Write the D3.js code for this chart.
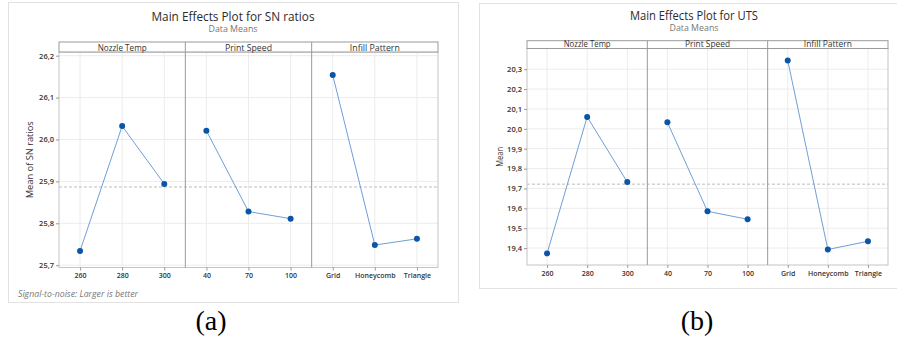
<!DOCTYPE html>
<html><head><meta charset="utf-8">
<script src="https://cdn.jsdelivr.net/npm/d3@7"></script>
<style>body{margin:0;background:#fff} svg{display:block}</style>
</head><body>
<svg id="c" width="897" height="342"></svg>
<script>
// ---- data ----
const factors = ["Nozzle Temp", "Print Speed", "Infill Pattern"];
const nozzleLevels = ["260", "280", "300"];
const speedLevels = ["40", "70", "100"];
const infillLevels = ["Grid", "Honeycomb", "Triangle"];

const snNozzle = [25.734, 26.032, 25.894];
const snSpeed = [26.021, 25.828, 25.811];
const snInfill = [26.154, 25.748, 25.763];
const snTicks = [25.7, 25.8, 25.9, 26.0, 26.1, 26.2];

const utsNozzle = [19.373, 20.060, 19.732];
const utsSpeed = [20.033, 19.585, 19.545];
const utsInfill = [20.344, 19.393, 19.434];
const utsTicks = [19.4, 19.5, 19.6, 19.7, 19.8, 19.9, 20.0, 20.1, 20.2, 20.3];

const levels = [nozzleLevels, speedLevels, infillLevels];

const svg = d3.select("#c");
const fmt = v => d3.format(".1f")(v).replace(".", ",");
const FONT = "'Open Sans', 'Noto Sans', sans-serif";

function txt(g, x, y, s, o) {
  const t = g.append("text").attr("x", x).attr("y", y).text(s)
    .attr("font-family", FONT).attr("font-size", o.size).attr("fill", o.fill || "#333")
    .attr("text-anchor", o.anchor || "middle");
  if (o.weight) t.attr("font-weight", o.weight);
  if (o.style) t.attr("font-style", o.style);
  if (o.len) t.attr("textLength", o.len).attr("lengthAdjust", "spacingAndGlyphs");
  if (o.rotate) t.attr("transform", `rotate(-90,${x},${y})`);
  return t;
}

function drawChart(cfg) {
  const g = svg.append("g");
  // outer frame
  g.append("rect").attr("x", cfg.box[0] + 0.5).attr("y", cfg.box[1] + 0.5)
    .attr("width", cfg.box[2] - cfg.box[0]).attr("height", cfg.box[3] - cfg.box[1])
    .attr("fill", "none").attr("stroke", "#e2e2e2");

  txt(g, cfg.titleX, cfg.titleY, cfg.title, {size: 12, fill: "#2b2b2b", len: cfg.titleLen});
  txt(g, cfg.titleX, cfg.titleY + 11.5, "Data Means", {size: 8.5, fill: "#777", len: 49});

  const [x0, x1, hy0, y0, y1] = cfg.plot;
  const y = d3.scaleLinear().domain(cfg.domain).range([y1, y0]);
  const fx = d3.scaleBand().domain(factors).range([x0, x1]).padding(0);

  // grid
  cfg.ticks.forEach(t => {
    g.append("line").attr("x1", x0).attr("x2", x1).attr("y1", y(t)).attr("y2", y(t))
      .attr("stroke", "#ececec").attr("stroke-width", 1);
  });
  factors.forEach((f, i) => {
    const px = d3.scalePoint().domain(levels[i]).range([fx(f), fx(f) + fx.bandwidth()]).padding(0.5);
    levels[i].forEach(l => {
      g.append("line").attr("x1", px(l)).attr("x2", px(l)).attr("y1", y0).attr("y2", y1)
        .attr("stroke", "#ececec");
    });
  });

  // mean reference line
  const mean = d3.mean(cfg.series[0]);
  g.append("line").attr("x1", x0).attr("x2", x1).attr("y1", y(mean)).attr("y2", y(mean))
    .attr("stroke", "#bdbdbd").attr("stroke-dasharray", "3,2");

  // plot frame
  g.append("rect").attr("x", x0).attr("y", y0).attr("width", x1 - x0).attr("height", y1 - y0)
    .attr("fill", "none").attr("stroke", "#c4c4c4");
  // header strip
  g.append("rect").attr("x", x0).attr("y", hy0).attr("width", x1 - x0).attr("height", y0 - hy0)
    .attr("fill", "#fff").attr("stroke", "#9a9a9a");

  factors.forEach((f, i) => {
    if (i > 0) {
      g.append("line").attr("x1", fx(f)).attr("x2", fx(f)).attr("y1", hy0).attr("y2", y1)
        .attr("stroke", "#9a9a9a");
    }
    txt(g, fx(f) + fx.bandwidth() / 2, y0 - 1.5, f, {size: 8.5, fill: "#333", len: cfg.headLen[i]});

    const px = d3.scalePoint().domain(levels[i]).range([fx(f), fx(f) + fx.bandwidth()]).padding(0.5);
    // x axis via d3 axis
    const ax = g.append("g").attr("transform", `translate(0,${y1})`)
      .call(d3.axisBottom(px).tickSize(3).tickPadding(2));
    ax.select(".domain").remove();
    ax.selectAll(".tick line").attr("stroke", "#999");
    ax.selectAll(".tick text").attr("font-family", FONT).attr("font-size", 7)
      .attr("font-weight", 600).attr("fill", "#333").attr("dy", cfg.xLabDy);

    const vals = cfg.series[i];
    const pts = levels[i].map((l, k) => [px(l), y(vals[k])]);
    g.append("path").attr("d", d3.line()(pts)).attr("fill", "none")
      .attr("stroke", "#6f9fd8").attr("stroke-width", 1);
    g.selectAll(null).data(pts).enter().append("circle")
      .attr("cx", d => d[0]).attr("cy", d => d[1]).attr("r", 3)
      .attr("fill", "#0b55a8");
  });

  // y axis
  const ay = g.append("g").attr("transform", `translate(${x0},0)`)
    .call(d3.axisLeft(y).tickValues(cfg.ticks).tickFormat(fmt).tickSize(3).tickPadding(2));
  ay.select(".domain").remove();
  ay.selectAll(".tick line").attr("stroke", "#999");
  ay.selectAll(".tick text").attr("font-family", FONT).attr("font-size", 7.5)
    .attr("font-weight", 600).attr("fill", "#333");

  txt(g, cfg.yLabX, (y0 + y1) / 2, cfg.yLabel, {size: 9, fill: "#333", rotate: true, len: cfg.yLabLen});

  if (cfg.foot) txt(g, 18, 297, cfg.foot, {size: 8.5, fill: "#777", style: "italic", anchor: "start", len: 120});

  g.append("text").attr("x", cfg.capX).attr("y", 330).text(cfg.caption)
    .attr("font-family", "'Liberation Serif', 'Times New Roman', serif").attr("font-size", 28)
    .attr("text-anchor", "middle").attr("fill", "#000");
}

drawChart({
  box: [8, 2, 458, 302],
  title: "Main Effects Plot for SN ratios", titleX: 233, titleY: 20.5, titleLen: 163,
  plot: [59, 438, 42, 52, 267.5],
  domain: [25.6945, 26.2088],
  ticks: snTicks,
  series: [snNozzle, snSpeed, snInfill],
  headLen: [49, 47, 50],
  yLabel: "Mean of SN ratios", yLabX: 33, yLabLen: 77,
  xLabDy: "0.85em",
  foot: "Signal-to-noise: Larger is better",
  caption: "(a)", capX: 211
});

drawChart({
  box: [479, 3, 905, 288],
  title: "Main Effects Plot for UTS", titleX: 694, titleY: 19.5, titleLen: 128,
  plot: [527, 888, 40.7, 48.5, 265],
  domain: [19.315, 20.404],
  ticks: utsTicks,
  series: [utsNozzle, utsSpeed, utsInfill],
  headLen: [47, 45, 48],
  yLabel: "Mean", yLabX: 503, yLabLen: 20,
  xLabDy: "0.85em",
  foot: null,
  caption: "(b)", capX: 697
});
</script>
</body></html>
